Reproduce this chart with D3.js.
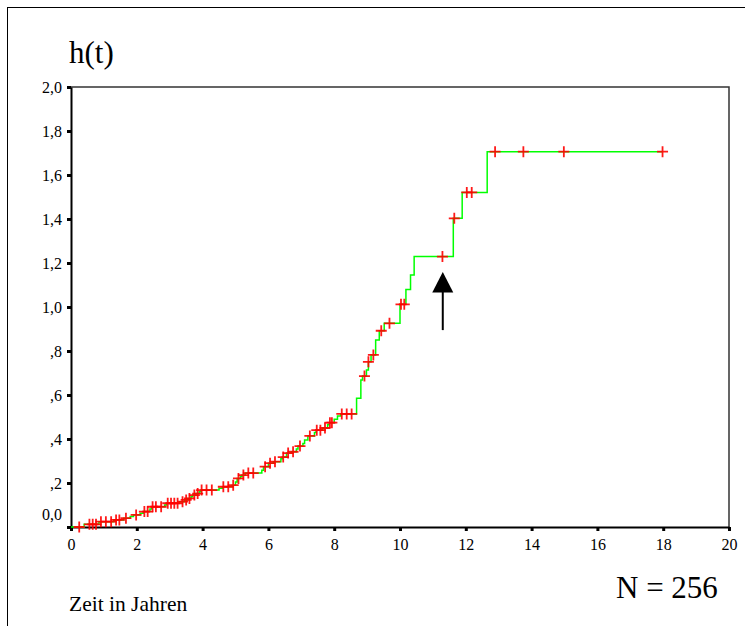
<!DOCTYPE html>
<html>
<head>
<meta charset="utf-8">
<script src="https://cdn.jsdelivr.net/npm/d3@7"></script>
<style>
  body { margin: 0; background: #fff; }
  text { font-family: "Liberation Serif", "Times New Roman", serif; fill: #000; }
</style>
</head>
<body>
<svg id="chart"></svg>
<script>
// step times (years) and cumulative hazard after each step
const stepTimes = [0, 0.4, 0.85, 1.3, 1.6, 1.8, 1.9, 2.1, 2.2, 2.4, 2.45, 2.85, 2.9, 3.3, 3.45, 3.55, 3.65, 3.7,
  3.8, 3.9, 3.95, 4.5, 4.6, 4.9, 5.0, 5.05, 5.15, 5.2, 5.3, 5.8, 5.85, 6.0, 6.15, 6.38, 6.42, 6.55, 6.7,
  6.85, 6.9, 7.05, 7.1, 7.2, 7.4, 7.45, 7.65, 7.8, 7.85, 8.0, 8.1, 8.2, 8.68, 8.81, 8.86, 8.98, 9.04, 9.12,
  9.26, 9.37, 9.52, 10.0, 10.18, 10.32, 10.43, 11.62, 11.89, 12.65];
const stepHazard = [0, 0.012, 0.024, 0.032, 0.040, 0.048, 0.055, 0.062, 0.070, 0.082, 0.092, 0.100, 0.108, 0.115, 0.123, 0.130, 0.138, 0.145,
  0.152, 0.160, 0.168, 0.176, 0.183, 0.190, 0.205, 0.221, 0.230, 0.236, 0.245, 0.258, 0.274, 0.290, 0.297, 0.310, 0.318, 0.336, 0.342,
  0.355, 0.368, 0.380, 0.395, 0.414, 0.430, 0.440, 0.450, 0.465, 0.474, 0.490, 0.505, 0.514, 0.585, 0.668, 0.686, 0.714, 0.751, 0.782,
  0.850, 0.892, 0.926, 1.012, 1.080, 1.145, 1.229, 1.403, 1.521, 1.706];
const lastTime = 17.98;

// censored observations (years)
const censored = [0.25, 0.56, 0.66, 0.76, 0.91, 1.06, 1.22, 1.37, 1.47, 1.67, 1.98, 2.23, 2.33, 2.48, 2.58, 2.74,
  2.94, 3.04, 3.14, 3.24, 3.39, 3.5, 3.6, 3.75, 3.85, 3.97, 4.12, 4.28, 4.63, 4.78, 4.93, 5.09, 5.24, 5.39, 5.54,
  5.9, 6.05, 6.2, 6.45, 6.6, 6.75, 6.96, 7.26, 7.47, 7.58, 7.72, 7.87, 7.93, 8.23, 8.38, 8.53, 8.92, 9.04, 9.19,
  9.43, 9.68, 10.03, 10.13, 11.29, 11.65, 12.03, 12.18, 12.89, 13.75, 14.98, 17.98];

const xTicks = [0, 2, 4, 6, 8, 10, 12, 14, 16, 18, 20];
const yTicks = [0, 0.2, 0.4, 0.6, 0.8, 1.0, 1.2, 1.4, 1.6, 1.8, 2.0];
const yTickLabels = ["0,0", ",2", ",4", ",6", ",8", "1,0", "1,2", "1,4", "1,6", "1,8", "2,0"];

// arrow pointing at censored case (t, from h, to h)
const arrowT = 11.3, arrowFrom = 0.895, arrowTo = 1.159;

const w = 745, h = 626;
const mLeft = 71, mRight = 729, mTop = 87, mBottom = 527;

const svg = d3.select("#chart").attr("width", w).attr("height", h);

// outer frame
svg.append("rect")
  .attr("x", 7.5).attr("y", 7.5)
  .attr("width", w).attr("height", h)
  .attr("fill", "none").attr("stroke", "#000").attr("stroke-width", 1);

const xScale = d3.scaleLinear().domain([0, 20]).range([mLeft, mRight]);
const yScale = d3.scaleLinear().domain([0, 2]).range([mBottom, mTop]);

// top and right border of the plot
svg.append("path")
  .attr("d", `M${mLeft},${mTop}H${mRight}V${mBottom}`)
  .attr("fill", "none").attr("stroke", "#333").attr("stroke-width", 1.5);

const xAxis = d3.axisBottom(xScale).tickValues(xTicks).tickFormat(d3.format("d")).tickSizeInner(4).tickSizeOuter(0).tickPadding(8);
const gx = svg.append("g").attr("transform", `translate(0,${mBottom})`).call(xAxis);

const yAxis = d3.axisLeft(yScale).tickValues(yTicks).tickFormat((d, i) => yTickLabels[i]).tickSizeInner(4).tickSizeOuter(0).tickPadding(5);
const gy = svg.append("g").attr("transform", `translate(${mLeft},0)`).call(yAxis);

[gx, gy].forEach(g => {
  g.select(".domain").attr("stroke", "#000").attr("stroke-width", 2);
  g.selectAll(".tick line").attr("stroke", "#000").attr("stroke-width", 3);
  g.selectAll(".tick text")
    .style("font-family", '"Liberation Serif", "Times New Roman", serif')
    .style("font-size", "16px");
});
gy.select(".tick text").attr("dy", "-0.45em");

// cumulative hazard step line
const pts = stepTimes.map((t, i) => [t, stepHazard[i]]);
pts.push([lastTime, stepHazard[stepHazard.length - 1]]);

const line = d3.line()
  .x(d => xScale(d[0]))
  .y(d => yScale(d[1]))
  .curve(d3.curveStepAfter);

svg.append("path")
  .datum(pts)
  .attr("d", line)
  .attr("fill", "none")
  .attr("stroke", "#00ff00")
  .attr("stroke-width", 1.5);

// censored marks sit on the curve
const hazardAt = t => {
  const i = d3.bisectRight(stepTimes, t) - 1;
  return stepHazard[Math.max(i, 0)];
};
svg.append("g").selectAll("path")
  .data(censored)
  .enter()
  .append("path")
  .attr("transform", d => `translate(${xScale(d)},${yScale(hazardAt(d))})`)
  .attr("d", "M-5.5,0H5.5M0,-5.5V5.5")
  .attr("stroke", "#ff0000")
  .attr("stroke-opacity", 0.9)
  .attr("stroke-width", 1.8)
  .attr("fill", "none");

// arrow
const ax = xScale(arrowT);
svg.append("line")
  .attr("x1", ax).attr("x2", ax)
  .attr("y1", yScale(arrowFrom)).attr("y2", yScale(arrowTo) + 18)
  .attr("stroke", "#000").attr("stroke-width", 2);
svg.append("path")
  .attr("d", `M${ax},${yScale(arrowTo)}L${ax + 10.5},${yScale(arrowTo) + 20.5}L${ax - 10.5},${yScale(arrowTo) + 20.5}Z`)
  .attr("fill", "#000");

// texts
svg.append("text").attr("x", 69).attr("y", 63).style("font-size", "31px").text("h(t)");
svg.append("text").attr("x", 616).attr("y", 598).style("font-size", "31px").text("N = 256");
svg.append("text").attr("x", 69).attr("y", 611).style("font-size", "21.5px").text("Zeit in Jahren");
</script>
</body>
</html>
